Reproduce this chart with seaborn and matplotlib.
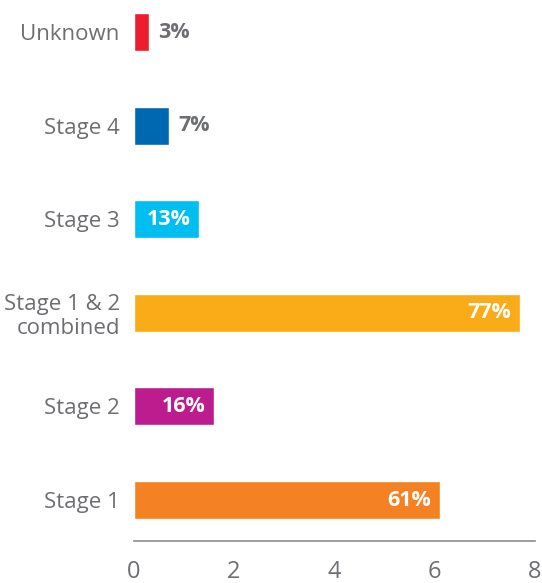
import matplotlib
matplotlib.use("Agg")
import matplotlib.pyplot as plt
import seaborn as sns
import pandas as pd

# Share of cases by stage at diagnosis
stages = ["Unknown", "Stage 4", "Stage 3", "Stage 1 & 2\ncombined", "Stage 2", "Stage 1"]
percent = [3, 7, 13, 77, 16, 61]
colors = ["#ED1C2E", "#0067B1", "#00BEF0", "#FAAB18", "#BC1C8D", "#F48222"]
x_ticks = [0, 2, 4, 6, 8]

df = pd.DataFrame({"stage": stages, "value": [p / 10 for p in percent]})
palette = dict(zip(stages, colors))

sns.set_theme(style="white")
plt.rcParams["font.family"] = ["Open Sans", "DejaVu Sans"]

GREY = "#6D6E71"

fig = plt.figure(figsize=(5.42, 5.83), dpi=100)
ax = fig.add_axes([0.2467, 0.072, 0.987 - 0.2467, 0.928])

sns.barplot(data=df, x="value", y="stage", hue="stage", palette=palette,
            order=stages, hue_order=stages, orient="h", width=0.406,
            saturation=1, legend=False, ax=ax)

ax.set_xlim(0, 8)
ax.set_ylim(5.438, -0.342)
ax.set_xticks(x_ticks)
ax.set_xticklabels([str(t) for t in x_ticks])
ax.set_xlabel("")
ax.set_ylabel("")

for side in ["left", "right", "top"]:
    ax.spines[side].set_visible(False)
ax.spines["bottom"].set_color("#8C8C8C")
ax.spines["bottom"].set_linewidth(1.2)
ax.tick_params(axis="x", direction="out", length=9, width=1.2, color="#8C8C8C",
               labelsize=17, labelcolor=GREY, pad=5)
ax.tick_params(axis="y", length=0, labelsize=16, labelcolor=GREY, pad=10)
for lbl in ax.get_yticklabels():
    lbl.set_linespacing(1.15)

# Percentage labels: inside the bar (white) when it is long enough, else beside it
for container, pct in zip(ax.containers, percent):
    bar = container[0]
    end = bar.get_width()
    yc = bar.get_y() + bar.get_height() / 2
    if end >= 1.0:
        ax.annotate(f"{pct}%", (end, yc), xytext=(-6, 0), textcoords="offset points",
                    ha="right", va="center", color="white", fontsize=15.5, fontweight="bold")
    else:
        ax.annotate(f"{pct}%", (end, yc), xytext=(7, 0), textcoords="offset points",
                    ha="left", va="center", color=GREY, fontsize=15.5, fontweight="bold")

fig.savefig("out.png", dpi=100)
